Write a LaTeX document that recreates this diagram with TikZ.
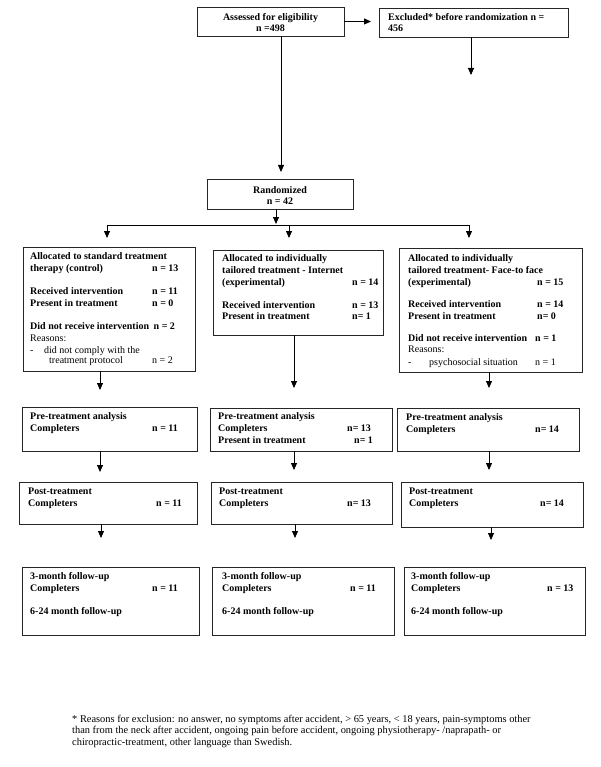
\documentclass[tikz,border=0pt]{standalone}
\usepackage{fontspec}
\setmainfont{Liberation Serif}
\usetikzlibrary{arrows.meta}
\begin{document}
\begin{tikzpicture}[x=1pt,y=-1pt,
  box/.style={draw=black!85, line width=0.8pt, anchor=north west, inner sep=0pt, outer sep=0pt},
  tb/.style={anchor=mid west, inner sep=0pt, font=\bfseries\fontsize{10}{11}\selectfont},
  tn/.style={anchor=mid west, inner sep=0pt, font=\fontsize{10}{11}\selectfont},
  tc/.style={anchor=mid, inner sep=0pt, font=\bfseries\fontsize{10}{11}\selectfont},
  fn/.style={anchor=mid west, inner sep=0pt, font=\fontsize{10.4}{11}\selectfont},
  arr/.style={line width=0.8pt, -{Triangle[width=6pt,length=7pt]}},
  ln/.style={line width=0.8pt}]
\newcommand\mybox[5]{\node[box, minimum width={(#4-#2)*1pt}, minimum height={(#5-#3)*1pt}] (#1) at (#2,#3) {};}
\useasboundingbox (0,0) rectangle (600,767);
% boxes
\mybox{assess}{197}{7}{344}{36}
\mybox{excl}{379}{8}{568}{37}
\mybox{rand}{207}{179}{353}{209}
\mybox{bA}{23}{247}{195}{371}
\mybox{bB}{213}{250}{383}{335}
\mybox{bC}{399}{248}{582}{372}
\mybox{pA}{22}{407}{197}{451}
\mybox{pB}{210}{408}{392}{451}
\mybox{pC}{397}{408}{579}{451}
\mybox{qA}{19}{482}{197}{524}
\mybox{qB}{211}{482}{392}{524}
\mybox{qC}{401}{482}{583}{527}
\mybox{fA}{22}{567}{199}{635}
\mybox{fB}{212}{567}{394}{635}
\mybox{fC}{404}{567}{585}{635}
% top texts
\node[tc] (as1) at (270.5,18) {Assessed for eligibility};
\node[tc] (as2) at (270.5,29.5) {n =498};
\node[tb] (ex1) at (388,18) {Excluded* before randomization n =};
\node[tb] (ex2) at (388,29.5) {456};
\node[tc] (ra1) at (280,191) {Randomized};
\node[tc] (ra2) at (280,202) {n = 42};
% box A
\node[tb] (a1) at (30,257) {Allocated to standard treatment};
\node[tb] (a2) at (30,269) {therapy (control)};
\node[tb] (a2n) at (152,269) {n = 13};
\node[tb] (a3) at (30,292) {Received intervention};
\node[tb] (a3n) at (152,292) {n = 11};
\node[tb] (a4) at (30,304) {Present in treatment};
\node[tb] (a4n) at (152,304) {n = 0};
\node[tb] (a5) at (30,327) {Did not receive intervention};
\node[tb] (a5n) at (153.5,327) {n = 2};
\node[tn] (a6) at (30,339) {Reasons:};
\node[tn] (a7d) at (30,351) {-};
\node[tn] (a7) at (44,351) {did not comply with the};
\node[tn] (a8) at (49,361.5) {treatment protocol};
\node[tn] (a8n) at (152,361.5) {n = 2};
% box B
\node[tb] (b1) at (222,259) {Allocated to individually};
\node[tb] (b2) at (222,271) {tailored treatment - Internet};
\node[tb] (b3) at (222,283) {(experimental)};
\node[tb] (b3n) at (352,283) {n = 14};
\node[tb] (b4) at (222,306) {Received intervention};
\node[tb] (b4n) at (352,306) {n = 13};
\node[tb] (b5) at (222,317.5) {Present in treatment};
\node[tb] (b5n) at (352,317.5) {n= 1};
% box C
\node[tb] (c1) at (408,259) {Allocated to individually};
\node[tb] (c2) at (408,271) {tailored treatment- Face-to face};
\node[tb] (c3) at (408,283) {(experimental)};
\node[tb] (c3n) at (537,283) {n = 15};
\node[tb] (c4) at (408,305) {Received intervention};
\node[tb] (c4n) at (537,305) {n = 14};
\node[tb] (c5) at (408,317) {Present in treatment};
\node[tb] (c5n) at (537,317) {n= 0};
\node[tb] (c6) at (408,339) {Did not receive intervention};
\node[tb] (c6n) at (535,339) {n = 1};
\node[tn] (c7) at (408,350.5) {Reasons:};
\node[tn] (c8d) at (408,363) {-};
\node[tn] (c8) at (429,363) {psychosocial situation};
\node[tn] (c8n) at (535,363) {n = 1};
% pre-treatment
\node[tb] (pa1) at (30,417) {Pre-treatment analysis};
\node[tb] (pa2) at (30,429) {Completers};
\node[tb] (pa2n) at (152,429) {n = 11};
\node[tb] (pb1) at (218,417.5) {Pre-treatment analysis};
\node[tb] (pb2) at (218,429.5) {Completers};
\node[tb] (pb2n) at (347,429.5) {n= 13};
\node[tb] (pb3) at (218,441) {Present in treatment};
\node[tb] (pb3n) at (354,441) {n= 1};
\node[tb] (pc1) at (406,418) {Pre-treatment analysis};
\node[tb] (pc2) at (406,430) {Completers};
\node[tb] (pc2n) at (535,430) {n= 14};
% post-treatment
\node[tb] (qa1) at (28,492) {Post-treatment};
\node[tb] (qa2) at (28,504) {Completers};
\node[tb] (qa2n) at (156,504) {n = 11};
\node[tb] (qb1) at (219,492) {Post-treatment};
\node[tb] (qb2) at (219,504) {Completers};
\node[tb] (qb2n) at (347,504) {n= 13};
\node[tb] (qc1) at (409,492) {Post-treatment};
\node[tb] (qc2) at (409,504) {Completers};
\node[tb] (qc2n) at (540,504) {n= 14};
% follow-up
\node[tb] (fa1) at (30,577) {3-month follow-up};
\node[tb] (fa2) at (30,589) {Completers};
\node[tb] (fa2n) at (152,589) {n = 11};
\node[tb] (fa3) at (30,612) {6-24 month follow-up};
\node[tb] (fb1) at (222,577) {3-month follow-up};
\node[tb] (fb2) at (222,589) {Completers};
\node[tb] (fb2n) at (350,589) {n = 11};
\node[tb] (fb3) at (222,612) {6-24 month follow-up};
\node[tb] (fc1) at (411,577) {3-month follow-up};
\node[tb] (fc2) at (411,589) {Completers};
\node[tb] (fc2n) at (547,589) {n = 13};
\node[tb] (fc3) at (411,612) {6-24 month follow-up};
% footnote
\node[fn] (fn1) at (72,720) {* Reasons for exclusion: no answer, no symptoms after accident, > 65 years, < 18 years, pain-symptoms other};
\node[fn] (fn2) at (72,731.5) {than from the neck after accident, ongoing pain before accident, ongoing physiotherapy- /naprapath- or};
\node[fn] (fn3) at (72,743) {chiropractic-treatment, other language than Swedish.};
% connectors
\coordinate (xa) at (281,0);
\coordinate (xe) at (471,75);
\coordinate (r0) at (276,225);
\coordinate (hL) at (107,225);
\coordinate (hM) at (289,225);
\coordinate (hR) at (469,225);
\coordinate (cA) at (100,0);
\coordinate (cB) at (294,0);
\coordinate (cC) at (489,0);
\coordinate (dA) at (101,0);
\coordinate (dB) at (295,0);
\coordinate (dC) at (491,0);
\draw[arr, shorten >=8pt] (assess.east) -- (excl.west |- assess.east);
\draw[arr, shorten >=7pt] (assess.south -| xa) -- (rand.north -| xa);
\draw[arr] (excl.south -| xe) -- (xe);
\draw[arr, shorten >=1pt] (rand.south -| r0) -- (r0);
\draw[ln] (hL) -- (hR);
\draw[arr, shorten >=9pt] (hL) -- (bA.north -| hL);
\draw[arr, shorten >=12pt] (hM) -- (bB.north -| hM);
\draw[arr, shorten >=10pt] (hR) -- (bC.north -| hR);
\draw[arr, shorten >=17pt] (bA.south -| cA) -- (pA.north -| cA);
\draw[arr, shorten >=20pt] (bB.south -| cB) -- (pB.north -| cB);
\draw[arr, shorten >=20pt] (bC.south -| cC) -- (pC.north -| cC);
\draw[arr, shorten >=10pt] (pA.south -| cA) -- (qA.north -| cA);
\draw[arr, shorten >=12pt] (pB.south -| cB) -- (qB.north -| cB);
\draw[arr, shorten >=12pt] (pC.south -| cC) -- (qC.north -| cC);
\draw[arr, shorten >=29pt] (qA.south -| dA) -- (fA.north -| dA);
\draw[arr, shorten >=29pt] (qB.south -| dB) -- (fB.north -| dB);
\draw[arr, shorten >=27pt] (qC.south -| dC) -- (fC.north -| dC);
\end{tikzpicture}
\end{document}
